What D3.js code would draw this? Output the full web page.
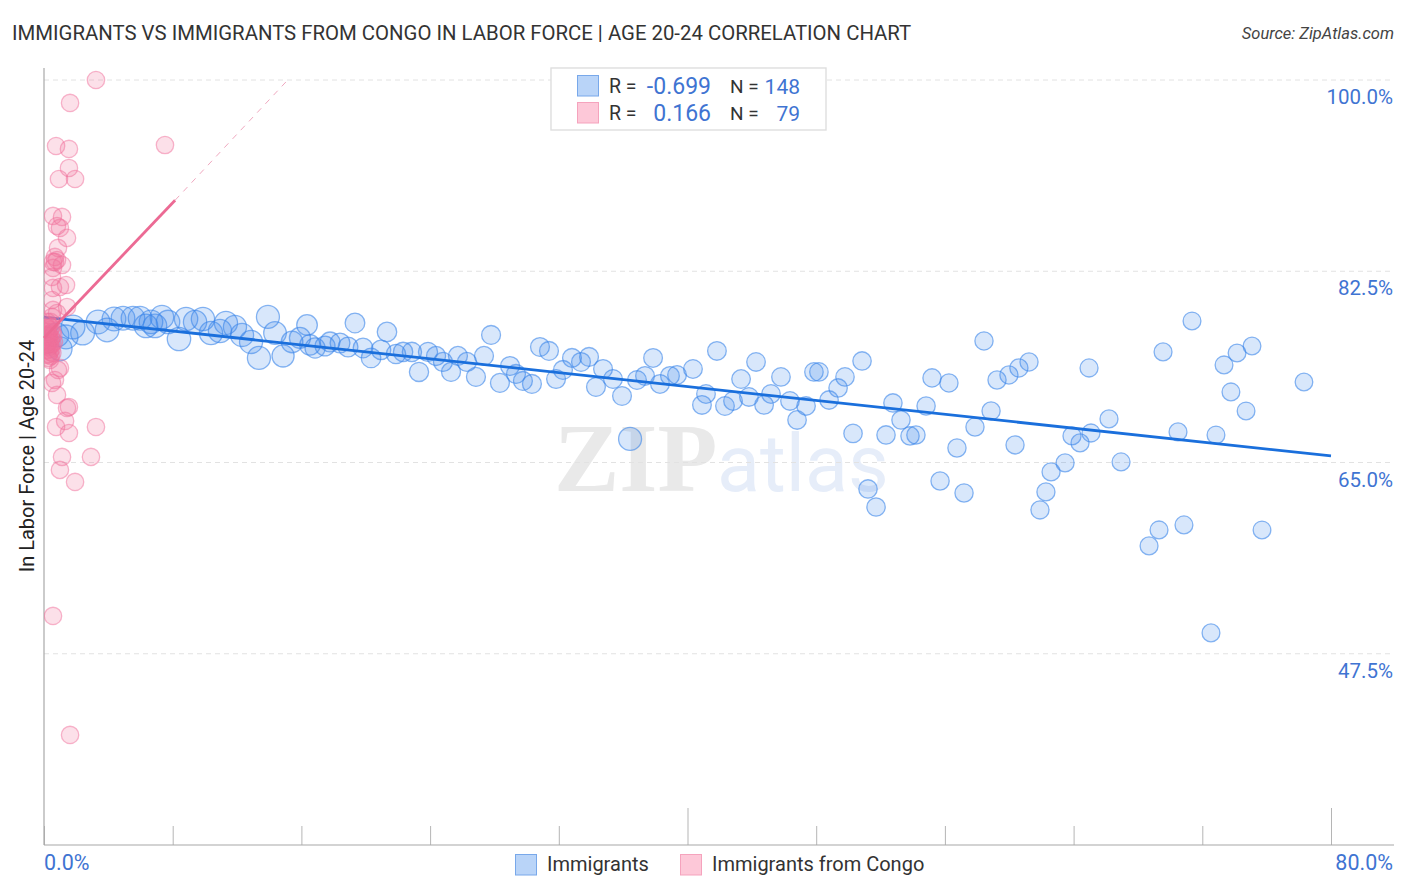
<!DOCTYPE html>
<html>
<head>
<meta charset="utf-8">
<script src="https://cdn.jsdelivr.net/npm/d3@7"></script>
<style>
  html, body { margin: 0; background: #fff; }
  text { font-family: Roboto, sans-serif; }
</style>
</head>
<body>
<div id="container"></div>
<script>
const w = 1406;
const h = 892;

const blueX = [1.0,1.8,2.4,3.36,3.92,4.35,4.91,5.53,5.97,6.34,6.9,7.33,7.71,8.39,8.83,9.39,9.88,10.38,10.94,11.31,11.87,12.31,12.87,13.36,13.92,14.36,14.86,15.42,15.91,16.35,16.85,17.47,17.78,18.4,19.33,21.32,18.9,19.83,20.33,20.95,21.88,22.32,22.87,23.31,23.87,24.37,24.8,25.3,25.73,26.29,26.85,27.35,27.79,28.34,28.97,29.34,29.77,30.33,30.83,31.39,31.83,32.26,32.82,33.38,33.88,34.31,34.75,35.37,35.93,36.43,36.86,37.36,37.86,38.29,38.91,39.35,40.34,41.83,41.15,40.9,42.33,42.83,43.33,44.26,43.82,44.76,45.19,45.81,46.37,47.37,46.81,47.86,48.17,48.8,49.36,49.79,50.85,52.77,55.2,56.25,54.83,53.27,50.29,52.34,53.83,54.2,51.22,51.72,55.7,57.19,56.75,57.87,58.87,60.36,59.24,59.98,60.6,61.23,58.43,64.96,66.2,63.9,65.08,64.4,63.47,62.6,62.28,61.91,66.95,71.36,69.56,73.35,74.16,75.09,73.78,74.72,70.49,72.85,78.32,69.31,68.69,70.86,75.71,72.54,0.8,1.37,6.65,16.53];
const blueY = [75.4,77.4,76.85,77.86,77.13,78.13,78.2,78.2,78.2,77.5,77.5,78.3,77.86,76.3,78.13,77.86,78.13,76.85,77.03,77.77,77.4,76.67,76.03,74.57,78.32,76.85,74.75,76.03,76.4,77.58,75.48,75.66,76.03,75.94,77.77,76.95,75.57,75.48,74.57,75.3,74.93,75.12,75.12,73.29,75.12,74.75,74.2,73.29,74.75,74.2,72.83,74.75,76.67,72.28,73.83,73.1,72.46,72.19,75.57,75.21,72.64,73.47,74.57,74.2,74.66,71.91,73.56,72.64,71.09,67.16,72.55,72.92,74.57,72.19,72.92,73.01,73.56,75.21,71.27,70.27,70.17,70.63,72.64,74.2,71.0,70.27,71.27,72.83,70.63,70.17,68.89,73.29,73.29,70.72,71.82,72.83,74.29,70.45,72.74,72.28,70.17,68.89,67.66,67.52,67.43,67.52,62.58,60.93,63.31,62.21,66.33,68.25,69.72,66.61,72.55,73.01,73.65,74.2,76.12,73.65,68.99,67.43,67.7,66.79,64.96,64.14,62.31,60.66,65.05,77.95,75.12,73.93,75.02,75.66,71.46,69.72,67.8,67.52,72.37,58.83,57.37,59.29,58.83,49.41,76.67,76.49,77.86,75.76];

const pinkX = [3.23,1.62,0.75,1.55,7.52,1.55,0.93,1.93,0.56,1.12,0.81,0.99,1.43,0.87,0.68,0.68,0.81,0.56,1.12,0.56,0.5,1.37,0.99,0.56,0.5,1.43,0.56,0.81,0.5,0.99,0.87,0.68,0.5,0.81,1.55,1.43,1.31,0.75,1.55,3.23,1.12,2.92,0.99,1.93,0.56,1.62,0.21,0.3,0.18,0.4,0.28,0.37,0.52,0.21,0.33,0.46,0.58,0.18,0.28,0.4,0.52,0.62,0.21,0.33,0.46,0.24,0.37,0.3,0.52,0.18,0.43,0.28,0.37,0.21,0.46,0.3,0.12,0.12,0.4];
const pinkY = [100,97.9,93.96,93.69,94.05,91.95,90.94,90.94,87.56,87.47,86.64,86.46,85.55,84.63,83.81,83.35,83.53,83.35,83.07,82.8,81.98,81.24,81.06,80.97,79.87,79.23,78.96,78.68,78.32,73.65,73.47,72.55,72.28,71.18,70.08,69.99,68.8,68.25,67.7,68.25,65.51,65.51,64.32,63.22,50.96,40.07,77.86,77.58,77.31,77.86,76.95,77.13,76.95,76.67,76.49,76.4,76.67,76.21,76.03,76.12,75.85,76.03,75.75,75.57,75.39,75.3,75.12,74.93,75.02,74.84,74.75,74.57,74.38,77.31,77.4,76.67,76.67,75.75,75.75];

const blueTrendX = [0, 80];
const blueTrendY = [78.3, 65.6];
const pinkSolidX = [0, 8.15];
const pinkSolidY = [76.4, 89.0];
const pinkDashX = [8.15, 15.15];
const pinkDashY = [89.0, 100];

const yTicks = [100, 82.5, 65, 47.5];
const xTicks = [0, 8, 16, 24, 32, 40, 48, 56, 64, 72, 80];
const xMajor = [40, 80];

const blue = '#3a86ea';
const pink = '#f2709c';
const tickBlue = '#3f74d2';

const x = d3.scaleLinear().domain([0, 80]).range([44, 1331]);
const y = d3.scaleLinear().domain([30, 100]).range([845, 80]);
// bubbles shrink as the share grows
const r = d3.scaleLinear().domain([0, 14, 17, 25, 45, 80]).range([12, 11.5, 10, 9.5, 9.3, 8.8]).clamp(true);

const svg = d3.select('#container')
  .append('svg')
    .attr('width', w)
    .attr('height', h)
    .attr('viewBox', [0, 0, w, h])
    .style('display', 'block');

// pink bubbles stop at the axis
svg.append('clipPath')
  .attr('id', 'plot')
  .append('rect')
  .attr('x', 44).attr('y', 60).attr('width', 1350).attr('height', 785);

// watermark
svg.append('text')
  .attr('x', 554).attr('y', 491)
  .style('font-family', '"Liberation Serif"')
  .style('font-size', '98px')
  .style('font-weight', 'bold')
  .style('fill', '#e9e9e9')
  .text('ZIP');
svg.append('text')
  .attr('x', 717).attr('y', 491)
  .style('font-size', '79px')
  .style('fill', '#e6edf9')
  .text('atlas');

// grid
svg.append('g')
  .selectAll('line')
  .data(yTicks)
  .enter()
  .append('line')
  .attr('x1', 44)
  .attr('x2', 1394)
  .attr('y1', d => y(d))
  .attr('y2', d => y(d))
  .style('stroke', '#e2e2e2')
  .style('stroke-dasharray', '5,4');

const xAxis = d3.axisBottom(x).tickValues(xTicks).tickSize(0).tickFormat('');
const xg = svg.append('g')
  .attr('transform', 'translate(0, 845)')
  .call(xAxis);
xg.select('.domain').remove();
xg.selectAll('.tick line')
  .attr('y2', d => xMajor.includes(d) ? -37 : -19)
  .style('stroke', '#b5b5b5');

svg.append('line').attr('x1', 44).attr('x2', 44).attr('y1', 68).attr('y2', 845)
  .style('stroke', '#a8a8a8').style('stroke-width', 1.2);
svg.append('line').attr('x1', 44).attr('x2', 1394).attr('y1', 845).attr('y2', 845)
  .style('stroke', '#a8a8a8').style('stroke-width', 1.2);

// y tick labels sit under their gridline
svg.append('g')
  .selectAll('text')
  .data(yTicks)
  .enter()
  .append('text')
  .attr('x', 1393)
  .attr('y', d => y(d) + 24)
  .attr('text-anchor', 'end')
  .style('font-size', '20.5px')
  .style('fill', tickBlue)
  .text(d => d.toFixed(1) + '%');

svg.append('text').attr('x', 44).attr('y', 870)
  .style('font-size', '21.5px').style('fill', tickBlue).text('0.0%');
svg.append('text').attr('x', 1393).attr('y', 870).attr('text-anchor', 'end')
  .style('font-size', '21.5px').style('fill', tickBlue).text('80.0%');

// points
svg.append('g')
  .selectAll('circle')
  .data(blueX.map((d, i) => [d, blueY[i]]))
  .enter()
  .append('circle')
  .attr('cx', d => x(d[0]))
  .attr('cy', d => y(d[1]))
  .attr('r', (d, i) => i === 69 ? 11.5 : r(d[0]))
  .style('fill', blue)
  .style('fill-opacity', 0.2)
  .style('stroke', blue)
  .style('stroke-opacity', 0.6)
  .style('stroke-width', 1.3);

svg.append('line')
  .attr('x1', x(blueTrendX[0])).attr('y1', y(blueTrendY[0]))
  .attr('x2', x(blueTrendX[1])).attr('y2', y(blueTrendY[1]))
  .style('stroke', '#1a6fdc')
  .style('stroke-width', 2.8);

svg.append('g')
  .attr('clip-path', 'url(#plot)')
  .selectAll('circle')
  .data(pinkX.map((d, i) => [d, pinkY[i]]))
  .enter()
  .append('circle')
  .attr('cx', d => x(d[0]))
  .attr('cy', d => y(d[1]))
  .attr('r', 8.7)
  .style('fill', pink)
  .style('fill-opacity', 0.22)
  .style('stroke', pink)
  .style('stroke-opacity', 0.5)
  .style('stroke-width', 1.3);

svg.append('line')
  .attr('x1', x(pinkSolidX[0])).attr('y1', y(pinkSolidY[0]))
  .attr('x2', x(pinkSolidX[1])).attr('y2', y(pinkSolidY[1]))
  .style('stroke', '#ec6a94')
  .style('stroke-width', 2.8);
svg.append('line')
  .attr('x1', x(pinkDashX[0])).attr('y1', y(pinkDashY[0]))
  .attr('x2', x(pinkDashX[1])).attr('y2', y(pinkDashY[1]))
  .style('stroke', '#f0a8bf')
  .style('stroke-dasharray', '6,6');

// titles
svg.append('text')
  .attr('x', 12).attr('y', 40)
  .style('font-size', '20.35px')
  .style('fill', '#333')
  .text('IMMIGRANTS VS IMMIGRANTS FROM CONGO IN LABOR FORCE | AGE 20-24 CORRELATION CHART');
svg.append('text')
  .attr('x', 1394).attr('y', 39)
  .attr('text-anchor', 'end')
  .style('font-size', '16.5px')
  .style('font-style', 'italic')
  .style('fill', '#444')
  .text('Source: ZipAtlas.com');
svg.append('text')
  .attr('transform', 'translate(34, 456) rotate(-90)')
  .attr('text-anchor', 'middle')
  .style('font-size', '20px')
  .style('fill', '#222')
  .text('In Labor Force | Age 20-24');

// R / N legend
const legendRows = [
  { r: '-0.699', n: '148', fill: '#b9d4f8', stroke: '#78a8ea', top: 75 },
  { r: '0.166', n: '79', fill: '#fdc8d8', stroke: '#f5a3bd', top: 102 }
];
svg.append('rect')
  .attr('x', 551).attr('y', 68).attr('width', 275).attr('height', 62)
  .style('fill', '#fff').style('stroke', '#dedede').style('stroke-width', 1.4);

const rows = svg.append('g')
  .selectAll('g')
  .data(legendRows)
  .enter()
  .append('g')
  .attr('transform', d => 'translate(0, ' + d.top + ')');
rows.append('rect')
  .attr('x', 577.5).attr('y', 0.5).attr('width', 21).attr('height', 20.5)
  .style('fill', d => d.fill).style('stroke', d => d.stroke);
rows.append('text').attr('x', 609).attr('y', 18)
  .style('font-size', '19.5px').style('fill', '#333').text('R =');
rows.append('text').attr('x', 711).attr('y', 19).attr('text-anchor', 'end')
  .style('font-size', '23px').style('fill', tickBlue).text(d => d.r);
rows.append('text').attr('x', 730).attr('y', 18)
  .style('font-size', '19px').style('fill', '#333').text('N =');
rows.append('text').attr('x', 800).attr('y', 19).attr('text-anchor', 'end')
  .style('font-size', '21px').style('fill', tickBlue).text(d => d.n);

// bottom legend
const bottomRows = [
  { label: 'Immigrants', fill: '#b9d4f8', stroke: '#78a8ea', left: 515 },
  { label: 'Immigrants from Congo', fill: '#fdc8d8', stroke: '#f5a3bd', left: 680 }
];
const bottom = svg.append('g')
  .selectAll('g')
  .data(bottomRows)
  .enter()
  .append('g')
  .attr('transform', d => 'translate(' + d.left + ', 854)');
bottom.append('rect')
  .attr('x', 0.5).attr('y', 0.5).attr('width', 21).attr('height', 20.5)
  .style('fill', d => d.fill).style('stroke', d => d.stroke);
bottom.append('text').attr('x', 32).attr('y', 17)
  .style('font-size', '20px').style('fill', '#333').text(d => d.label);
</script>
</body>
</html>
